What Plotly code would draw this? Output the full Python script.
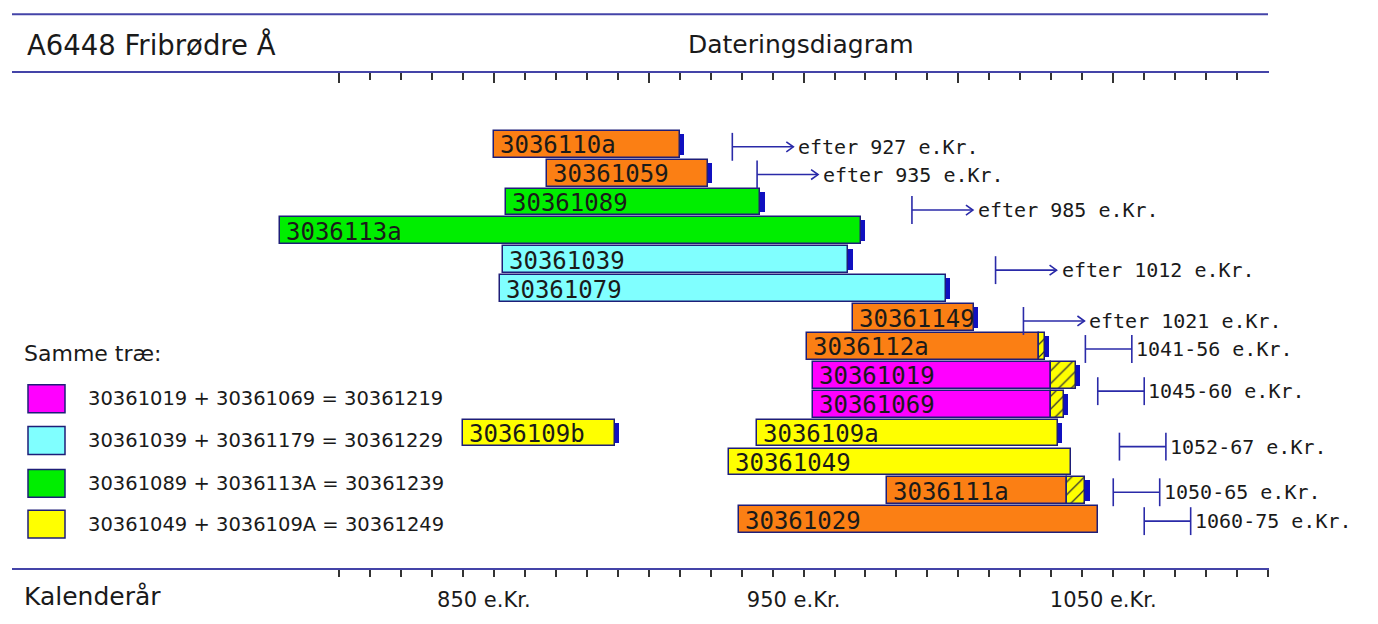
import plotly.graph_objects as go

# ---------------- data ----------------
samples = ["3036110a", "30361059", "30361089", "3036113a", "30361039", "30361079",
           "30361149", "3036112a", "30361019", "30361069", "3036109a", "30361049",
           "3036111a", "30361029", "3036109b"]
rows = [0, 1, 2, 3, 4, 5, 6, 7, 8, 9, 10, 11, 12, 13, 10]
start_year = [850, 867, 854, 781, 853, 852, 966, 951, 953, 953, 935, 926, 977, 929, 840]
heart_end = [910, 919, 936, 968.5, 964.5, 996, 1005, 1026, 1030, 1030, 1032, 1036.5, 1035, 1045, 889]
sap_end = [None, None, None, None, None, None, None, 1028, 1038, 1034, None, None, 1041, None, None]
has_cap = [1, 1, 1, 1, 1, 1, 1, 1, 1, 1, 1, 0, 1, 0, 1]
ORANGE, GREEN, CYAN, MAGENTA, YELLOW = "#fb7f14", "#00ee00", "#80ffff", "#ff00ff", "#ffff00"
wood_colors = [ORANGE, ORANGE, GREEN, GREEN, CYAN, CYAN, ORANGE, ORANGE, MAGENTA, MAGENTA,
               YELLOW, YELLOW, ORANGE, ORANGE, YELLOW]

date_texts = ["efter 927 e.Kr.", "efter 935 e.Kr.", "efter 985 e.Kr.", "efter 1012 e.Kr.",
              "efter 1021 e.Kr.", "1041-56 e.Kr.", "1045-60 e.Kr.", "1052-67 e.Kr.",
              "1050-65 e.Kr.", "1060-75 e.Kr."]
date_from = [927, 935, 985, 1012, 1021, 1041, 1045, 1052, 1050, 1060]
date_to = [None, None, None, None, None, 1056, 1060, 1067, 1065, 1075]
date_rows = [0.09, 1.05, 2.28, 4.36, 6.12, 7.09, 8.55, 10.47, 12.05, 13.05]

legend_colors = [MAGENTA, CYAN, GREEN, YELLOW]
legend_texts = ["30361019 + 30361069 = 30361219",
                "30361039 + 30361179 = 30361229",
                "30361089 + 3036113A = 30361239",
                "30361049 + 3036109A = 30361249"]

label_years = [850, 950, 1050]
label_texts = ["850 e.Kr.", "950 e.Kr.", "1050 e.Kr."]

# ---------------- geometry / style ----------------
OFF = 8                                     # page body margin in the browser
W, H = 1378 - 2 * OFF, 624 - 2 * OFF
PL, PR, PT, PB = 12 - OFF, 1269 - OFF, 73 - OFF, 570 - OFF   # plot area (figure px)
X_AT_800, PX_PER_YEAR = 339 - OFF, 3.097
ROW0_PX, PX_PER_ROW = 144.5 - OFF, 29.0
xr0 = 800 - (X_AT_800 - PL) / PX_PER_YEAR
xr1 = xr0 + (PR - PL) / PX_PER_YEAR
yr_top = (PT - ROW0_PX) / PX_PER_ROW
yr_bot = (PB - ROW0_PX) / PX_PER_ROW

AXIS_BLUE = "#4444a8"
EDGE = "#1e1e78"
LINE_BLUE = "#2a2aa8"
CAP_BLUE = "#1010c0"
TXT = "#1a1a1a"
SANS = "DejaVu Sans"
MONO = "DejaVu Sans Mono"


def px_x(px):
    """screen px -> paper x"""
    return (px - OFF - PL) / (PR - PL)


def px_y(py):
    """screen px -> paper y"""
    return (PB - (py - OFF)) / (PB - PT)


fig = go.Figure()

# main wood bars
fig.add_trace(go.Bar(
    orientation="h", y=rows, base=start_year,
    x=[e - s for s, e in zip(start_year, heart_end)],
    width=0.93, marker=dict(color=wood_colors, line=dict(color=EDGE, width=1.5)),
    hoverinfo="skip", showlegend=False))

# sapwood (hatched)
sw_rows, sw_base, sw_len = [], [], []
for r, he, se in zip(rows, heart_end, sap_end):
    if se is not None:
        sw_rows.append(r); sw_base.append(he); sw_len.append(se - he)
fig.add_trace(go.Bar(
    orientation="h", y=sw_rows, base=sw_base, x=sw_len, width=0.93,
    marker=dict(color=YELLOW, line=dict(color=EDGE, width=1.5),
                pattern=dict(shape="/", fgcolor="#333333", bgcolor=YELLOW,
                             size=9, solidity=0.14, fillmode="replace")),
    hoverinfo="skip", showlegend=False))

# bark edge caps
cap_rows, cap_base = [], []
for r, he, se, c in zip(rows, heart_end, sap_end, has_cap):
    if c:
        cap_rows.append(r); cap_base.append(se if se is not None else he)
fig.add_trace(go.Bar(
    orientation="h", y=cap_rows, base=cap_base, x=[1.4] * len(cap_rows), width=0.72,
    marker=dict(color=CAP_BLUE, line=dict(width=0)), hoverinfo="skip", showlegend=False))

# invisible trace for the top axis
fig.add_trace(go.Scatter(x=[800], y=[0], xaxis="x2", yaxis="y", mode="markers",
                         marker=dict(opacity=0), hoverinfo="skip", showlegend=False))

annotations = []
shapes = []

# bar labels
for name, r, s in zip(samples, rows, start_year):
    annotations.append(dict(x=s, y=r, xref="x", yref="y", text=name, showarrow=False,
                            xanchor="left", yanchor="middle", xshift=4, yshift=-1,
                            font=dict(family=MONO, size=24, color=TXT)))

# dating markers
half_v = 14 / PX_PER_ROW
arrow_len = 61 / PX_PER_YEAR
for t, x0, x1, r in zip(date_texts, date_from, date_to, date_rows):
    line = dict(color=LINE_BLUE, width=1.6)
    shapes.append(dict(type="line", xref="x", yref="y", x0=x0, x1=x0,
                       y0=r - half_v, y1=r + half_v, line=line))
    if x1 is None:
        tip = x0 + arrow_len
        shapes.append(dict(type="line", xref="x", yref="y", x0=x0, x1=tip, y0=r, y1=r, line=line))
        dx, dy = 7 / PX_PER_YEAR, 5 / PX_PER_ROW
        shapes.append(dict(type="path", xref="x", yref="y",
                           path=f"M {tip-dx},{r-dy} L {tip},{r} L {tip-dx},{r+dy}", line=line))
        tx, shift = tip, 3
    else:
        shapes.append(dict(type="line", xref="x", yref="y", x0=x0, x1=x1, y0=r, y1=r, line=line))
        shapes.append(dict(type="line", xref="x", yref="y", x0=x1, x1=x1,
                           y0=r - half_v, y1=r + half_v, line=line))
        tx, shift = x1, 2
    annotations.append(dict(x=tx, y=r, xref="x", yref="y", text=t, showarrow=False,
                            xanchor="left", yanchor="middle", xshift=shift,
                            font=dict(family=MONO, size=20, color=TXT)))

# header
shapes.append(dict(type="line", xref="paper", yref="paper", x0=px_x(12), x1=px_x(1268),
                   y0=px_y(14), y1=px_y(14), line=dict(color=AXIS_BLUE, width=2)))
annotations.append(dict(x=px_x(25), y=px_y(44), xref="paper", yref="paper",
                        text="A6448 Fribrødre Å", showarrow=False, xanchor="left",
                        yanchor="middle", font=dict(family=SANS, size=27.5, color=TXT)))
annotations.append(dict(x=px_x(686), y=px_y(44), xref="paper", yref="paper",
                        text="Dateringsdiagram", showarrow=False, xanchor="left",
                        yanchor="middle", font=dict(family=SANS, size=25, color=TXT)))
annotations.append(dict(x=px_x(22), y=px_y(599), xref="paper", yref="paper",
                        text="Kalenderår", showarrow=False, xanchor="left",
                        yanchor="middle", font=dict(family=SANS, size=25, color=TXT)))

# legend
annotations.append(dict(x=px_x(22), y=px_y(355), xref="paper", yref="paper",
                        text="Samme træ:", showarrow=False, xanchor="left",
                        yanchor="middle", font=dict(family=SANS, size=22, color=TXT)))
legend_y = [400, 442, 485, 526]
for c, t, yy in zip(legend_colors, legend_texts, legend_y):
    shapes.append(dict(type="rect", xref="paper", yref="paper",
                       x0=px_x(28), x1=px_x(65), y0=px_y(yy - 14), y1=px_y(yy + 14),
                       fillcolor=c, line=dict(color=EDGE, width=1.5)))
    annotations.append(dict(x=px_x(86), y=px_y(yy), xref="paper", yref="paper",
                            text=t, showarrow=False, xanchor="left", yanchor="middle",
                            font=dict(family=SANS, size=19.5, color=TXT)))

tick_all = list(range(800, 1101, 10))
tick_text = [label_texts[label_years.index(v)] if v in label_years else "" for v in tick_all]

fig.update_layout(
    width=W, height=H, margin=dict(l=PL, r=W - PR, t=PT, b=H - PB),
    paper_bgcolor="white", plot_bgcolor="white", barmode="overlay", bargap=0,
    showlegend=False,
    xaxis=dict(range=[xr0, xr1], showgrid=False, zeroline=False, showline=True,
               linecolor=AXIS_BLUE, linewidth=2, ticks="outside", ticklen=7, tickwidth=1.5,
               tickcolor="#333333", tickmode="array", tickvals=tick_all, ticktext=tick_text,
               ticklabelshift=-10, ticklabelstandoff=5,
               tickfont=dict(family=SANS, size=21, color=TXT)),
    xaxis2=dict(range=[xr0, xr1], overlaying="x", side="top", anchor="y", showgrid=False,
                zeroline=False, showline=True, linecolor=AXIS_BLUE, linewidth=2,
                ticks="inside", ticklen=10, tickwidth=1.5, tickcolor="#333333",
                tickmode="array", tickvals=list(range(800, 1101, 50)), showticklabels=False,
                minor=dict(ticks="inside", ticklen=7, tickwidth=1.5, tickcolor="#333333",
                           tickmode="array", tickvals=tick_all)),
    yaxis=dict(range=[yr_bot, yr_top], visible=False, fixedrange=True),
    annotations=annotations, shapes=shapes,
)

fig.write_html("out.html")
